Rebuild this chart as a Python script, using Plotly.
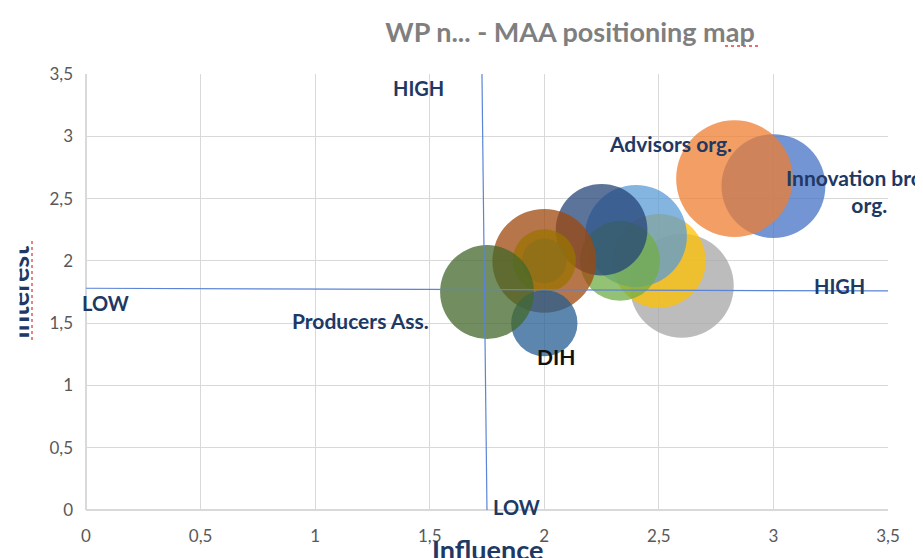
import plotly.graph_objects as go

# bubble series (Excel order, later ones drawn on top)
infl = [3.0, 2.83, 2.6, 2.5, 2.4, 2.33, 2.25, 2.0, 2.0, 2.0, 2.0, 1.75]
inter = [2.6, 2.66, 1.8, 2.0, 2.2, 2.0, 2.25, 2.0, 2.0, 2.0, 1.5, 1.75]
bsize = [27, 34, 27, 22, 26, 16, 21, 27, 5, 10, 11, 22]
colores = ['#4472C4', '#ED7D31', '#A5A5A5', '#FFC000', '#5B9BD5', '#70AD47',
           '#264478', '#9E480E', '#636363', '#997300', '#255E91', '#43682B']

# data labels
etiquetas = ['Advisors org.', 'Innovation broker<br>org.', 'Producers Ass.', 'DIH']
etiq_x = [2.55, 3.42, 1.2, 2.05]
etiq_y = [2.945, 2.56, 1.525, 1.235]
etiq_col = ['#203864', '#203864', '#203864', '#111111']

# quadrant lines (drawn by hand in the original, slightly tilted)
vline_x = [1.728, 1.75]
vline_y = [3.5, -0.016]
hline_x = [-0.017, 3.54]
hline_y = [1.78, 1.758]

# quadrant words
cuad = ['HIGH', 'LOW', 'LOW', 'HIGH']
cuad_x = [1.45, 1.877, 0.083, 3.29]
cuad_y = [3.39, 0.024, 1.66, 1.80]

fuente = 'Lato, Open Sans, sans-serif'
navy = '#203864'

# the page has an 8px body margin, so the figure is 8px smaller each way
W, H = 915, 550
ML, MR, MT, MB = 78, 35, 66, 48
PW, PH = W - ML - MR, H - MT - MB

fig = go.Figure()
for i in range(len(infl)):
    fig.add_trace(go.Scatter(
        x=[infl[i]], y=[inter[i]], mode='markers',
        marker=dict(size=[bsize[i]], sizemode='area', sizeref=0.005,
                    color=colores[i], opacity=0.75, line=dict(width=0)),
        showlegend=False, hoverinfo='x+y'))

lineas = dict(color='#5B84D6', width=1.2)
fig.add_shape(type='line', x0=vline_x[0], y0=vline_y[0], x1=vline_x[1], y1=vline_y[1],
              xref='x', yref='y', line=lineas)
fig.add_shape(type='line', x0=hline_x[0], y0=hline_y[0], x1=hline_x[1], y1=hline_y[1],
              xref='x', yref='y', line=lineas)

anots = []
for t, x, y, c in zip(etiquetas, etiq_x, etiq_y, etiq_col):
    anots.append(dict(x=x, y=y, xref='x', yref='y', text='<b>%s</b>' % t, showarrow=False,
                      xanchor='center', yanchor='middle',
                      font=dict(family=fuente, size=21, color=c), align='center'))
for t, x, y in zip(cuad, cuad_x, cuad_y):
    anots.append(dict(x=x, y=y, xref='x', yref='y', text='<b>%s</b>' % t, showarrow=False,
                      xanchor='center', yanchor='middle',
                      font=dict(family=fuente, size=20, color=navy)))


def px(sx):
    # screen x -> paper x
    return (sx - 8 - ML) / PW


def py(sy):
    # screen y -> paper y
    return (H - MB - (sy - 8)) / PH


# axis titles (cut off at the edges like the original)
anots.append(dict(x=px(487), y=py(549), xref='paper', yref='paper',
                  xanchor='center', yanchor='middle',
                  text='<b>Influence</b>', showarrow=False,
                  font=dict(family=fuente, size=27, color=navy)))
anots.append(dict(x=px(18), y=py(293), xref='paper', yref='paper',
                  xanchor='center', yanchor='middle',
                  text='<b>Interest</b>', showarrow=False, textangle=-90,
                  font=dict(family=fuente, size=27, color=navy)))
anots.append(dict(x=px(8), y=py(291), xref='paper', yref='paper',
                  xanchor='left', yanchor='middle', text=' ', showarrow=False,
                  width=10, height=160, bgcolor='white', borderpad=0))

# spell-check squiggles seen in the original
squig = dict(color='#E04040', width=1.3, dash='dot')
fig.add_shape(type='line', xref='paper', yref='paper', x0=px(725), x1=px(761),
              y0=py(46), y1=py(46), line=squig)
fig.add_shape(type='line', xref='paper', yref='paper', x0=px(32), x1=px(32),
              y0=py(241), y1=py(343), line=squig)

fig.update_layout(
    width=W, height=H,
    margin=dict(l=ML, r=MR, t=MT, b=MB),
    paper_bgcolor='white', plot_bgcolor='white',
    separators=', ',
    title=dict(text='<b>WP n... - MAA positioning map</b>', x=(570 - 8) / W, y=1 - (33 - 8) / H,
               xanchor='center', yanchor='middle',
               font=dict(family=fuente, size=27, color='#7F7F7F')),
    annotations=anots,
    font=dict(family=fuente),
)
ejes = dict(dtick=0.5, showgrid=True, gridcolor='#D9D9D9', gridwidth=1,
            zeroline=True, zerolinecolor='#D9D9D9', showline=False, ticks='',
            tickfont=dict(family=fuente, size=17, color='#595959'), tickformat='.1~f')
fig.update_xaxes(range=[0, 3.5], ticklabelstandoff=14, **ejes)
fig.update_yaxes(range=[0, 3.5], ticklabelstandoff=12, **ejes)

fig.write_html("out.html")
